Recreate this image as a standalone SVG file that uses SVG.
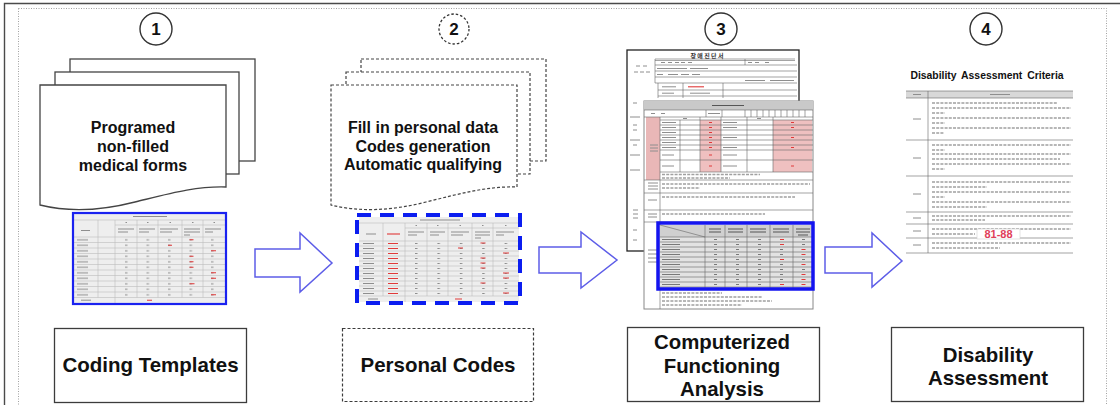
<svg xmlns="http://www.w3.org/2000/svg" width="1120" height="405" viewBox="0 0 1120 405">
  <defs>
    <style>
      .t{font-family:"Liberation Sans",Arial,sans-serif;font-weight:700;fill:#111;text-anchor:middle}
      .kr{font-family:"Noto Sans CJK KR",sans-serif;font-weight:700;fill:#333;text-anchor:middle}
      .num{fill:#fff;stroke:#333;stroke-width:1.4}
      .numd{fill:#fff;stroke:#333;stroke-width:1.3;stroke-dasharray:2.5 2}
      .page{fill:#fff;stroke:#444;stroke-width:1.3}
      .paged{fill:#fff;stroke:#444;stroke-width:1.2;stroke-dasharray:3 2}
      .lbl{fill:#fff;stroke:#3c3c3c;stroke-width:1.3}
      .lbld{fill:#fff;stroke:#3c3c3c;stroke-width:1.2;stroke-dasharray:3 2}
      .grid{fill:none;stroke:#bcbcbc;stroke-width:0.6}
      .fline{fill:none;stroke:#666;stroke-width:0.6}
      .ink{fill:none;stroke:#8e8e8e;stroke-width:1}
      .dark{fill:none;stroke:#555;stroke-width:1}
      .red{fill:none;stroke:#e03a3a;stroke-width:1.1}
      .txt{fill:none;stroke:#a0a0a0;stroke-width:1.3;stroke-dasharray:3 1.2}
      .arrow{fill:#fff;stroke:#5d5de8;stroke-width:1.5}
    </style>
    <pattern id="rowmark1" x="77" y="237" width="20" height="5.5" patternUnits="userSpaceOnUse">
      <rect x="0" y="2.3" width="11" height="1" fill="#8e8e8e"/>
    </pattern>
    <pattern id="cellmark1" x="125" y="237" width="21.5" height="5.5" patternUnits="userSpaceOnUse">
      <rect x="0" y="2.3" width="2.5" height="1" fill="#8e8e8e"/>
    </pattern>
    <pattern id="rowmark2" x="363" y="241" width="20" height="5" patternUnits="userSpaceOnUse">
      <rect x="0" y="2" width="11" height="1" fill="#8e8e8e"/>
    </pattern>
    <pattern id="icf2" x="388" y="241" width="30" height="5" patternUnits="userSpaceOnUse">
      <rect x="0" y="2" width="10" height="1" fill="#e03a3a"/>
    </pattern>
    <pattern id="cellmark2" x="415" y="241" width="22.4" height="5" patternUnits="userSpaceOnUse">
      <rect x="0" y="2" width="2.5" height="1" fill="#8e8e8e"/>
    </pattern>
    <pattern id="rowmark3" x="662" y="237" width="40" height="5" patternUnits="userSpaceOnUse">
      <rect x="0" y="2" width="18" height="1" fill="#777"/>
    </pattern>
    <pattern id="cellmark3" x="714" y="237" width="22" height="5" patternUnits="userSpaceOnUse">
      <rect x="0" y="2" width="3" height="1" fill="#777"/>
    </pattern>
  </defs>

  <!-- page frame -->
  <g id="frame">
    <rect x="0" y="0" width="1120" height="405" fill="#fff"/>
    <path d="M4.5,405V3.5H1120" fill="none" stroke="#4a4a4a" stroke-width="1.4"/>
    <rect x="18.5" y="8.5" width="1088" height="410" fill="none" stroke="#8a8a8a" stroke-width="0.8" stroke-dasharray="1 1.5"/>
  </g>

  <!-- step 1 -->
  <g id="step1-badge">
    <circle class="num" cx="156" cy="29" r="16"/>
    <text class="t" x="156" y="35" font-size="17">1</text>
  </g>
  <g id="step1-forms">
    <rect class="page" x="70" y="59" width="185" height="102"/>
    <rect class="page" x="55" y="72" width="184" height="102"/>
    <path class="page" d="M40,85H226V187C196,186 168,194 135,202C100,211 68,212 40,205Z"/>
    <text class="t" font-size="16"><tspan x="133" y="133">Programed</tspan><tspan x="133" y="151.75">non-filled</tspan><tspan x="133" y="170.5">medical forms</tspan></text>
  </g>
  <g id="step1-sheet">
    <rect x="73" y="213" width="153" height="91" fill="#eeeeee"/>
    <path class="grid" d="M73,220H226M115,225H226M73,237H226M73,242.5H226M73,248H226M73,253.5H226M73,259H226M73,264.5H226M73,270H226M73,275.5H226M73,281H226M73,286.5H226M73,292H226M73,297.5H226M98,220V297.5M115,220V303M137,220V297.5M158,220V297.5M182,220V297.5M203,220V297.5"/>
    <path class="ink" d="M133,216.5h34M125.5,222.5h1.5M147,222.5h1.5M169.5,222.5h1.5M192,222.5h1.5M213.5,222.5h1.5M81,230.5h9M118,229h16M118,232h10M139,229h16M139,232h10M160,229h18M160,232h12M184,229h16M184,232h16M184,235h6M205,229h16M205,232h8M81,300.2h10"/>
    <rect x="77" y="237" width="14" height="60.5" fill="url(#rowmark1)"/>
    <rect x="125" y="237" width="96" height="60.5" fill="url(#cellmark1)"/>
    <path class="red" d="M189.5,239.8h4M168,245.3h4M211,250.8h5M189.5,256.3h4M189.5,261.8h4M189.5,267.3h4M211,272.8h5M211,278.3h5M189.5,283.8h5M211,294.8h5M147,300.2h5"/>
    <rect x="73" y="213" width="153" height="91" fill="none" stroke="#1a22f0" stroke-width="2.2"/>
  </g>
  <g id="step1-label">
    <rect class="lbl" x="54.5" y="328.5" width="192" height="74"/>
    <text class="t" x="150.5" y="372" font-size="20.5">Coding Templates</text>
  </g>

  <!-- step 2 -->
  <g id="step2-badge">
    <circle class="numd" cx="454" cy="29" r="15"/>
    <text class="t" x="454" y="35" font-size="17">2</text>
  </g>
  <g id="step2-forms">
    <rect class="paged" x="361" y="59" width="185" height="102"/>
    <rect class="paged" x="346" y="72" width="184" height="102"/>
    <path class="paged" d="M331,85H517V187C487,186 459,194 426,202C391,211 359,212 331,205Z"/>
    <text class="t" font-size="16"><tspan x="423" y="133">Fill in personal data</tspan><tspan x="423" y="151.5">Codes generation</tspan><tspan x="423" y="170">Automatic qualifying</tspan></text>
  </g>
  <g id="step2-sheet">
    <rect x="359" y="217" width="160" height="85" fill="#eeeeee"/>
    <path class="grid" d="M359,223H519M405,228H519M359,241H519M359,246H519M359,251H519M359,256H519M359,261H519M359,266H519M359,271H519M359,276H519M359,281H519M359,286H519M359,291H519M359,296H519M383,223V296M405,223V302M427,223V296M448,223V296M472,223V296M493,223V296"/>
    <path class="ink" d="M420,220h40M415.5,225.5h1.5M437,225.5h1.5M459.5,225.5h1.5M482,225.5h1.5M505,225.5h1.5M366,234h10M408,232h16M408,235h9M430,232h15M430,235h9M451,232h18M451,235h12M475,232h15M475,235h15M475,238h6M496,232h18M496,235h8M368,299h10"/>
    <path class="red" d="M387,234h13"/>
    <rect x="363" y="241" width="14" height="55" fill="url(#rowmark2)"/>
    <rect x="388" y="241" width="12" height="55" fill="url(#icf2)"/>
    <rect x="415" y="241" width="95" height="55" fill="url(#cellmark2)"/>
    <path class="red" d="M480.5,243h5M458,248h5M503,253h6M480.5,258h5M480.5,263h5M480.5,268h5M503,273h6M503,278h6M480.5,283h5M503,293h6M455,299h7"/>
    <rect x="357" y="215" width="163" height="88" fill="none" stroke="#0b1df0" stroke-width="4" stroke-dasharray="14 9"/>
  </g>
  <g id="step2-label">
    <rect class="lbld" x="342.5" y="328.5" width="191" height="73"/>
    <text class="t" x="438" y="372" font-size="20.5">Personal Codes</text>
  </g>

  <!-- step 3 -->
  <g id="step3-badge">
    <circle class="num" cx="721" cy="29" r="16"/>
    <text class="t" x="721" y="35" font-size="17">3</text>
  </g>
  <g id="step3-forms">
    <!-- certificate sheet behind -->
    <rect x="627" y="50" width="172" height="201" fill="#fff" stroke="#222" stroke-width="1.3"/>
    <text class="kr" x="707" y="57.5" font-size="6">장 애 진 단 서</text>
    <path class="fline" d="M655,59H795M655,60.5H795M655,65H797M655,71H797M655,77H797M655,83H797M658,90H797M658,96H797M655,59V83M745,59V65M658,83V98M683,83V98M723,83V98"/>
    <path class="ink" d="M661,62.5h4M668,62.5h4M675,62.5h4M681,62.5h4M688,62.5h4M748,62.5h4M755,62.5h4M765,62.5h4M657,68.5h30M690,68.5h18M657,74.5h6M668,74.5h10M681,74.5h8M692,74.5h8M745,80.5h20M770,80.5h24M662,86.8h14M662,93.2h12M690,93.2h20M636,66h4M643,66h4M634,72h4M640,72h4M646,72h4M633,103h4M630,117h10M633,125h4M633,130h4M630,140h10M633,145h4M630,155h10M630,170h10M633,210h5M633,214h5M633,218h5M633,230h4M633,240h4"/>
    <path class="red" d="M688,86.8h16"/>
    <!-- functioning report sheet in front -->
    <rect x="644" y="101" width="169" height="208" fill="#fff" stroke="#888" stroke-width="1"/>
    <rect x="644" y="101" width="169" height="9" fill="#c9c9c9"/>
    <path class="dark" d="M712,105.5h32"/>
    <rect x="646" y="117" width="14" height="63" fill="#e9b7b7"/>
    <rect x="700" y="120" width="21" height="52" fill="#efc0c0"/>
    <rect x="773" y="120" width="39" height="52" fill="#efc0c0"/>
    <path class="fline" d="M644,110H813M644,117H813M660,120H813M660,125H813M660,130H813M660,135H813M660,140H813M660,145H813M660,150H813M660,160H813M660,172H813M745,110v7M751,110v7M757,110v7M763,110v7M769,110v7M775,110v7M781,110v7M787,110v7M793,110v7M799,110v7M805,110v7M706,110v7M722,110v7M660,117V309M680,120V172M700,117V172M721,117V172M747,117V172M773,117V172M644,180H813M644,193H813M644,210H813M644,222H813"/>
    <path class="ink" d="M651,113.5h4M661,113.5h4M708,113.5h12M683,118.5h4M757,118.5h4M662,122.5h14M662,127.5h14M662,132.5h14M662,137.5h14M662,142.5h14M662,147.5h14M662,155h12M662,166h12M723,122.5h14M723,127.5h14M723,137.5h14M723,147.5h14M723,155h14M723,166h14M650,145h8M650,148h8M650,151h8M648,183h10M648,186h10M648,189h10M648,200h9M648,214h9M648,217h9M648,250h10M648,254h10M648,258h10M648,262h10"/>
    <path class="red" d="M709,122.5h3M709,127.5h3M709,132.5h3M709,137.5h3M709,142.5h3M709,147.5h3M709,155h3M709,166h3M791,122.5h3M791,127.5h3M791,137.5h3M791,147.5h3M791,166h3"/>
    <path class="txt" d="M662,174.5H760M662,178H730M662,184H810M662,188H700M662,197H795M662,214H765M662,293H722M662,297H762M662,301H772M662,305H742"/>
    <!-- functioning score table -->
    <rect x="660" y="225" width="153" height="64" fill="#e2e2e2"/>
    <rect x="660" y="225" width="153" height="12" fill="#d0d0d0"/>
    <path class="fline" d="M660,237H813M660,242H813M660,247H813M660,252H813M660,257H813M660,262H813M660,267H813M660,272H813M660,277H813M660,282H813M660,287H813M705,225V289M725,225V289M747,225V289M770,225V289M793,225V289M660,225L705,237"/>
    <path class="dark" d="M709,229h12M709,232h12M728,229h15M728,232h15M750,229h16M750,232h16M773,229h16M773,232h16M796,229h14M796,232h14M798,235h10"/>
    <rect x="662" y="237" width="22" height="50" fill="url(#rowmark3)"/>
    <rect x="714" y="237" width="92" height="50" fill="url(#cellmark3)"/>
    <path class="red" d="M780,239.5h4M780,244.5h4M801.5,249.5h4M801.5,254.5h4M780,259.5h4M801.5,264.5h4M801.5,274.5h4M801.5,279.5h4M780,284.5h4M801.5,284.5h4"/>
    <rect x="658" y="223" width="155" height="66" fill="none" stroke="#1414f0" stroke-width="3.5"/>
  </g>
  <g id="step3-label">
    <rect class="lbl" x="627.5" y="327.5" width="192" height="74"/>
    <text class="t" font-size="20.4"><tspan x="722" y="349">Computerized</tspan><tspan x="722" y="372.5">Functioning</tspan><tspan x="722" y="396">Analysis</tspan></text>
  </g>

  <!-- step 4 -->
  <g id="step4-badge">
    <circle class="num" cx="986" cy="29" r="16"/>
    <text class="t" x="986" y="35" font-size="17">4</text>
  </g>
  <g id="step4-criteria">
    <text class="t" x="987" y="79" font-size="10.4" word-spacing="2">Disability Assessment Criteria</text>
    <rect x="906" y="91" width="167" height="7" fill="#d8d8d8"/>
    <path class="fline" d="M906,91H1073M906,98H1073M906,140H1073M906,176H1073M906,212H1073M906,224H1073M906,238H1073M906,253H1073M928,91V253"/>
    <path class="ink" d="M913,94.5h8M990,94.5h20M913,119h8M913,158h8M913,194h8M913,218h8M913,231h8M913,245h8"/>
    <path class="txt" d="M932,103H1057M932,108H1071M932,113H945M932,118H1071M932,123H945M932,128H1071M932,133H944M932,145H1071M932,150H945M932,154H1071M932,159H1060M932,164H1071M932,169H945M932,182H1071M932,187H987M932,192H1071M932,197H945M932,202H1071M932,207H987M932,216H1071M932,220H985M932,229H1071M932,234H975M932,243H1071M932,248H1000"/>
    <rect x="977" y="229" width="43" height="10" fill="#fff" stroke="#cfcfcf" stroke-width="0.6"/>
    <text class="t" x="998.5" y="237.8" font-size="11" style="fill:#e0405a">81-88</text>
  </g>
  <g id="step4-label">
    <rect class="lbl" x="891.5" y="327.5" width="192" height="74"/>
    <text class="t" font-size="20.4"><tspan x="988" y="361.5">Disability</tspan><tspan x="988" y="385">Assessment</tspan></text>
  </g>

  <!-- flow arrows between steps -->
  <g id="connectors">
    <path class="arrow" d="M255,249H300V233L332,263L300,292V277H255Z"/>
    <path class="arrow" d="M539,247H581V232L617,260L581,288V273H539Z"/>
    <path class="arrow" d="M825,247H872V233L902,261L872,287V273H825Z"/>
  </g>
</svg>
